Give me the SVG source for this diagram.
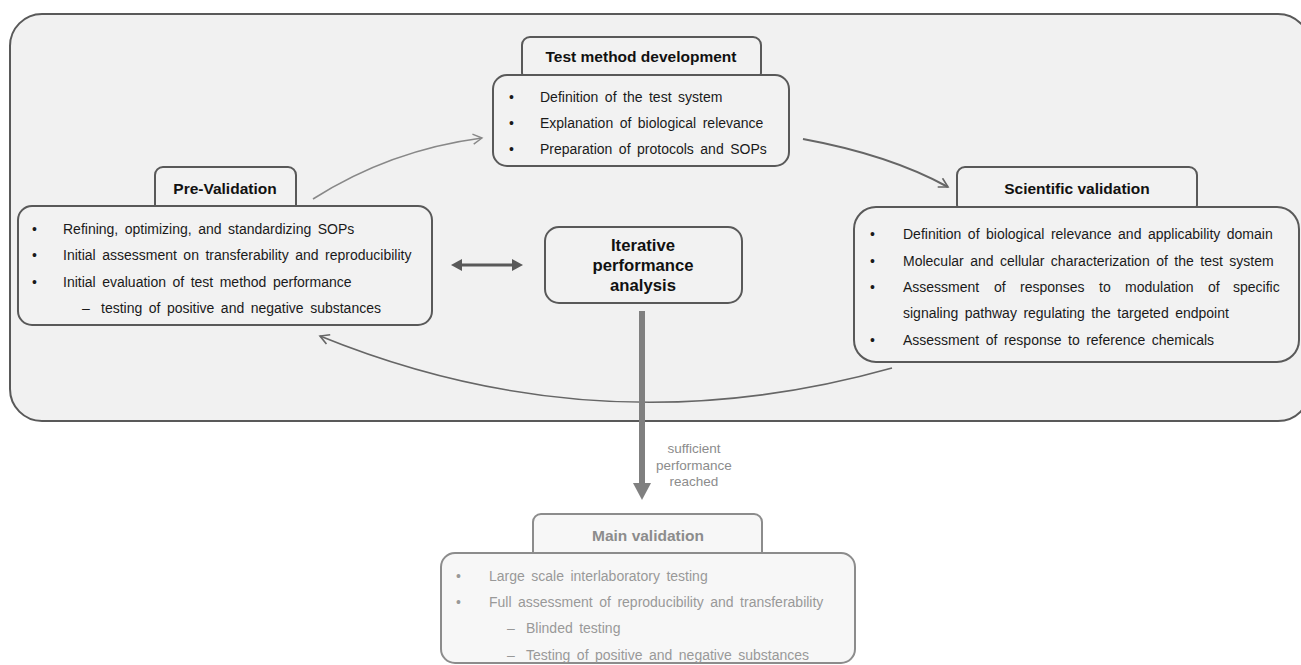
<svg xmlns="http://www.w3.org/2000/svg" width="1301" height="665" viewBox="0 0 1301 665">
<defs>
<style>
.t{font-family:"Liberation Sans",Arial,sans-serif;font-size:14px;word-spacing:2.6px;fill:#1a1a1a}
.b{font-family:"Liberation Sans",Arial,sans-serif;font-size:15.5px;font-weight:bold;fill:#111}
.g{font-family:"Liberation Sans",Arial,sans-serif;font-size:14px;word-spacing:2.6px;fill:#999}
.gb{font-family:"Liberation Sans",Arial,sans-serif;font-size:15.5px;font-weight:bold;fill:#8c8c8c}
.s{font-family:"Liberation Sans",Arial,sans-serif;font-size:13.5px;fill:#8c8c8c;text-anchor:middle}
.box{fill:#f2f2f2;stroke:#595959;stroke-width:2}
.gbox{fill:#f7f7f7;stroke:#8c8c8c;stroke-width:2}
.mid{text-anchor:middle}
</style>
<marker id="openL" viewBox="0 0 12 12" refX="10" refY="6" markerWidth="12" markerHeight="12" markerUnits="userSpaceOnUse" orient="auto">
<path d="M1,1 L10,6 L1,11" fill="none" stroke="#666" stroke-width="1.6"/>
</marker>
<marker id="openG" viewBox="0 0 12 12" refX="10" refY="6" markerWidth="12" markerHeight="12" markerUnits="userSpaceOnUse" orient="auto">
<path d="M1,1 L10,6 L1,11" fill="none" stroke="#888" stroke-width="1.4"/>
</marker>
</defs>
<rect width="1301" height="665" fill="#ffffff"/>
<g id="container">
<rect x="10" y="14" width="1300" height="407" rx="32" ry="32" fill="#f1f1f1" stroke="#595959" stroke-width="2"/>
</g>
<g id="connectors">
<path d="M313,199 Q390,150 482,138" fill="none" stroke="#888" stroke-width="1.6" marker-end="url(#openG)"/>
<path d="M803,139 Q890,155 948,187" fill="none" stroke="#666" stroke-width="2" marker-end="url(#openL)"/>
<path d="M892,368 Q600,450 320,336" fill="none" stroke="#666" stroke-width="1.6" marker-end="url(#openL)"/>
<g id="double-arrow" fill="#595959" stroke="none">
<rect x="460" y="263.5" width="54" height="3"/>
<path d="M451,265 L462,259 L462,271 Z"/>
<path d="M523,265 L512,259 L512,271 Z"/>
</g>
<g id="down-arrow" fill="#808080">
<rect x="639" y="311" width="6" height="174"/>
<path d="M633,483 L651,483 L642,500 Z"/>
</g>
<text class="s" x="694" y="453">sufficient</text>
<text class="s" x="694" y="470">performance</text>
<text class="s" x="694" y="486">reached</text>
</g>
<g id="test-method-development">
<rect class="box" x="522" y="37" width="239" height="44" rx="8"/>
<rect class="box" x="493" y="75" width="296" height="91" rx="14"/>
<text class="b mid" x="641" y="62">Test method development</text>
<text class="t" x="509" y="102">•</text><text class="t" x="540" y="102">Definition of the test system</text>
<text class="t" x="509" y="128">•</text><text class="t" x="540" y="128">Explanation of biological relevance</text>
<text class="t" x="509" y="154">•</text><text class="t" x="540" y="154">Preparation of protocols and SOPs</text>
</g>
<g id="pre-validation">
<rect class="box" x="155" y="167" width="141" height="46" rx="8"/>
<rect class="box" x="18" y="206" width="414" height="119" rx="14"/>
<text class="b mid" x="225" y="194">Pre-Validation</text>
<text class="t" x="32" y="234">•</text><text class="t" x="63" y="234">Refining, optimizing, and standardizing SOPs</text>
<text class="t" x="32" y="260">•</text><text class="t" x="63" y="260">Initial assessment on transferability and reproducibility</text>
<text class="t" x="32" y="287">•</text><text class="t" x="63" y="287">Initial evaluation of test method performance</text>
<text class="t" x="82" y="313">–</text><text class="t" x="101" y="313">testing of positive and negative substances</text>
</g>
<g id="iterative-performance-analysis">
<rect class="box" x="545" y="227" width="197" height="76" rx="14"/>
<text class="b mid" style="font-size:16.7px" x="643" y="251">Iterative</text>
<text class="b mid" style="font-size:16.7px" x="643" y="271">performance</text>
<text class="b mid" style="font-size:16.7px" x="643" y="291">analysis</text>
</g>
<g id="scientific-validation">
<rect class="box" x="957" y="167" width="240" height="46" rx="8"/>
<rect class="box" x="854" y="207" width="445" height="155" rx="22"/>
<text class="b mid" x="1077" y="194">Scientific validation</text>
<text class="t" x="870" y="239">•</text><text class="t" x="903" y="239">Definition of biological relevance and applicability domain</text>
<text class="t" x="870" y="266">•</text><text class="t" x="903" y="266">Molecular and cellular characterization of the test system</text>
<text class="t" x="870" y="292">•</text><text class="t" y="292"><tspan x="903">Assessment</tspan><tspan x="994">of</tspan><tspan x="1020">responses</tspan><tspan x="1099">to</tspan><tspan x="1125">modulation</tspan><tspan x="1208">of</tspan><tspan x="1233">specific</tspan></text>
<text class="t" x="903" y="318">signaling pathway regulating the targeted endpoint</text>
<text class="t" x="870" y="345">•</text><text class="t" x="903" y="345">Assessment of response to reference chemicals</text>
</g>
<g id="main-validation">
<rect class="gbox" x="533" y="514" width="229" height="46" rx="8"/>
<rect class="gbox" x="441" y="553" width="414" height="110" rx="14"/>
<text class="gb mid" x="648" y="541">Main validation</text>
<text class="g" x="456" y="581">•</text><text class="g" x="489" y="581">Large scale interlaboratory testing</text>
<text class="g" x="456" y="607">•</text><text class="g" x="489" y="607">Full assessment of reproducibility and transferability</text>
<text class="g" x="507" y="633">–</text><text class="g" x="526" y="633">Blinded testing</text>
<text class="g" x="507" y="660">–</text><text class="g" x="526" y="660">Testing of positive and negative substances</text>
</g>
</svg>
